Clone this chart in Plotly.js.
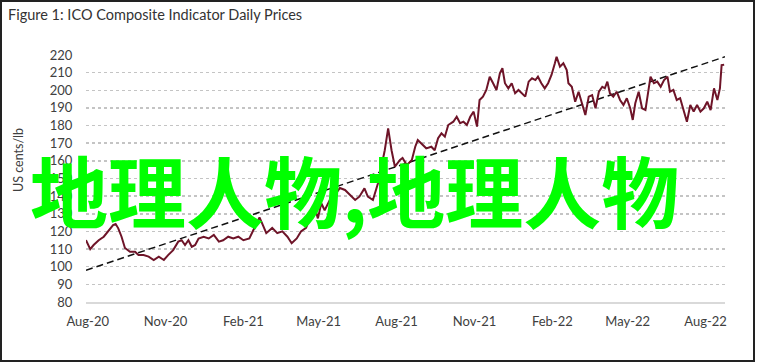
<!DOCTYPE html>
<html>
<head>
<meta charset="utf-8">
<script src="https://cdn.plot.ly/plotly-3.0.1.min.js"></script>
<style>
  html, body { margin: 0; padding: 0; background: #fff; }
  #wrap { position: relative; width: 757px; height: 364px; }
  #chart { position: absolute; left: 0; top: 0; width: 757px; height: 364px; }
  #frame { position: absolute; left: 0; top: 0; width: 755px; height: 362px; box-sizing: border-box; border: 2px solid #222; pointer-events: none; }
</style>
</head>
<body>
<div id="wrap"><div id="chart"></div><div id="frame"></div></div>
<script>
const dates = [
  "2020-07-30","2020-08-04","2020-08-08","2020-08-14","2020-08-20","2020-08-26","2020-08-31","2020-09-03","2020-09-06","2020-09-10",
  "2020-09-14","2020-09-20","2020-09-26","2020-09-30","2020-10-06","2020-10-12","2020-10-18","2020-10-24","2020-10-30","2020-11-04",
  "2020-11-10","2020-11-16","2020-11-20","2020-11-24","2020-11-28","2020-12-02","2020-12-06","2020-12-10","2020-12-16","2020-12-22",
  "2020-12-28","2021-01-03","2021-01-08","2021-01-14","2021-01-20","2021-01-26","2021-02-01","2021-02-08","2021-02-16","2021-02-20",
  "2021-02-24","2021-02-28","2021-03-07","2021-03-13","2021-03-19","2021-03-25","2021-03-30","2021-04-05","2021-04-10","2021-04-16",
  "2021-04-20","2021-04-26","2021-04-30","2021-05-04","2021-05-08","2021-05-14","2021-05-20","2021-05-26","2021-06-01","2021-06-07",
  "2021-06-13","2021-06-18","2021-06-24","2021-06-28","2021-07-04","2021-07-10","2021-07-18","2021-07-22","2021-07-26","2021-07-30",
  "2021-08-05","2021-08-08","2021-08-13","2021-08-19","2021-08-23","2021-08-26","2021-09-01","2021-09-05","2021-09-11","2021-09-15",
  "2021-09-19","2021-09-23","2021-09-27","2021-10-01","2021-10-07","2021-10-11","2021-10-15","2021-10-19","2021-10-23","2021-10-27",
  "2021-10-31","2021-11-04","2021-11-07","2021-11-11","2021-11-15","2021-11-19","2021-11-23","2021-11-27","2021-12-01","2021-12-04",
  "2021-12-07","2021-12-11","2021-12-15","2021-12-19","2021-12-23","2021-12-27","2021-12-31","2022-01-04","2022-01-08","2022-01-12",
  "2022-01-15","2022-01-19","2022-01-23","2022-01-27","2022-01-31","2022-02-04","2022-02-06","2022-02-10","2022-02-14","2022-02-18",
  "2022-02-20","2022-02-24","2022-02-28","2022-03-04","2022-03-08","2022-03-12","2022-03-16","2022-03-20","2022-03-24","2022-03-28",
  "2022-04-01","2022-04-04","2022-04-07","2022-04-10","2022-04-14","2022-04-18","2022-04-22","2022-04-26","2022-04-30","2022-05-04",
  "2022-05-07","2022-05-10","2022-05-14","2022-05-18","2022-05-22","2022-05-25","2022-05-28","2022-06-01","2022-06-05","2022-06-09",
  "2022-06-13","2022-06-17","2022-06-20","2022-06-24","2022-06-28","2022-07-02","2022-07-06","2022-07-10","2022-07-14","2022-07-18",
  "2022-07-22","2022-07-26","2022-07-30","2022-08-03","2022-08-07","2022-08-11","2022-08-15","2022-08-18","2022-08-20","2022-08-23"
];
const prices = [
  115.1,110,112.3,115,117,120.8,123.6,124.2,121.9,117,
  110.6,108.5,108.5,106.6,106.6,105.7,103.8,105.7,103.8,106.6,
  109.4,114.2,115,112.3,115,111.3,112.3,116,117,116,
  118,114.2,115,117,116,117,115,116,123.6,128,
  123.6,119,122,119,120,117,113.3,116,120,122,
  126.5,134,127.4,136,132,137.8,140.6,144.6,143.5,140.6,
  137.8,139.7,144.4,139.7,137.8,147.3,166,178.4,166,156.7,
  160.5,161.6,157.6,160.5,168,171.8,169,167.1,168,166,
  172.8,175.6,173.7,180.3,182.2,185,181.3,182.2,180.3,185,
  187.9,179.4,194.5,196.4,200.2,207.7,204,200.2,209.6,212.5,
  204,201.1,204,198.3,200.2,198.3,196.4,204.9,206.8,205.8,
  207.7,204,201.1,204,208.7,215.3,219,213.4,215.3,211.5,
  204,202,193.5,199.2,192.6,186,196.4,197.3,189.8,199.2,
  202,201.1,204.9,198.3,196.4,199.2,194.5,191.7,195.5,189.8,
  183.2,192.6,199.2,189.8,188.8,198.3,207.7,204,204.9,202,
  205.8,207.7,199.2,200.2,194.5,195.5,188.8,182.2,191.7,187.9,
  191.7,187.9,189.8,193.5,188.8,201.1,194.5,201.1,214.3,214.5
];
const trendDates = ["2020-07-30", "2022-08-24"];
const trendValues = [98, 219];
const tickDates = ["2020-08-01","2020-11-01","2021-02-01","2021-05-01","2021-08-01","2021-11-01","2022-02-01","2022-05-01","2022-08-01"];
const tickLabels = ["Aug-20","Nov-20","Feb-21","May-21","Aug-21","Nov-21","Feb-22","May-22","Aug-22"];
const yTicks = [80,90,100,110,120,130,140,150,160,170,180,190,200,210,220];

const txt = '#404040';
const traces = [
  { x: trendDates, y: trendValues, type: 'scatter', mode: 'lines',
    line: { color: '#111', width: 1.5, dash: '7px,4px' }, hoverinfo: 'skip' },
  { x: dates, y: prices, type: 'scatter', mode: 'lines',
    line: { color: '#6e1428', width: 2 } }
];
const layout = {
  width: 757, height: 364,
  margin: { l: 86, r: 32, t: 55, b: 62 },
  paper_bgcolor: '#fff', plot_bgcolor: '#fff',
  showlegend: false,
  font: { family: 'Lato, "Open Sans", sans-serif', size: 13, color: txt },
  title: { text: 'Figure 1: ICO Composite Indicator Daily Prices',
    x: 8/757, xref: 'container', xanchor: 'left', y: 1 - 15/364, yref: 'container', yanchor: 'middle',
    font: { family: 'Lato, "Open Sans", sans-serif', size: 14.5, color: '#333' } },
  xaxis: {
    type: 'date', range: ['2020-07-30', '2022-08-24'],
    tickvals: tickDates, ticktext: tickLabels,
    showgrid: false, zeroline: false,
    showline: true, linecolor: '#d9d9d9', linewidth: 2,
    ticks: 'outside', ticklen: 6, tickcolor: 'rgba(0,0,0,0)',
    tickfont: { size: 13, color: txt }
  },
  yaxis: {
    range: [80, 220], tickvals: yTicks,
    showgrid: true, gridcolor: '#c4c4c4', gridwidth: 1.5, griddash: 'dot',
    zeroline: false, showline: false,
    ticks: 'outside', ticklen: 10, tickcolor: 'rgba(0,0,0,0)',
    tickfont: { size: 13, color: txt }
  },
  annotations: [
    { text: 'US cents/lb', xref: 'paper', yref: 'paper', x: (18-86)/639, y: (302-160)/247,
      xanchor: 'center', yanchor: 'middle', textangle: -90, showarrow: false,
      font: { size: 12.5, color: txt } },
    { text: '地理人物,地理人物', xref: 'paper', yref: 'paper', x: (354-86)/639, y: (302-189)/247,
      xanchor: 'center', yanchor: 'middle', showarrow: false,
      font: { family: '"Noto Sans CJK SC", sans-serif', size: 78, color: '#00ff00', weight: 700 } }
  ]
};
Plotly.newPlot('chart', traces, layout, { staticPlot: true, displayModeBar: false });
</script>
</body>
</html>
